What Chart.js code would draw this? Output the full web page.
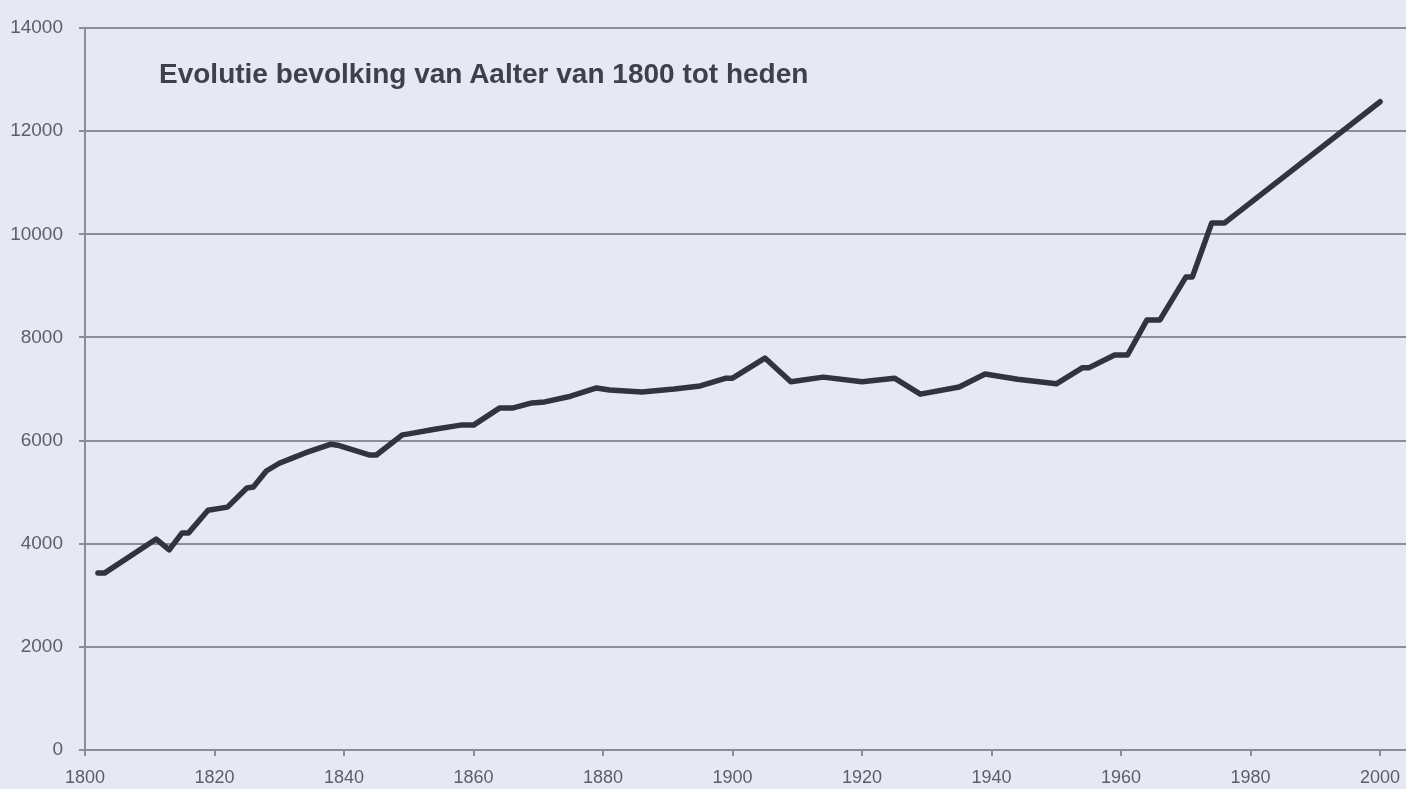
<!DOCTYPE html>
<html>
<head>
<meta charset="utf-8">
<title>Evolutie bevolking van Aalter</title>
<script src="https://cdn.jsdelivr.net/npm/chart.js@4.4.1/dist/chart.umd.min.js"></script>
<style>
  html, body { margin: 0; padding: 0; background: #e6e9f3; }
  #wrap { position: relative; width: 1406px; height: 789px; }
  #titel {
    position: absolute; left: 159px; top: 60px;
    font-family: "Liberation Sans", Arial, sans-serif;
    font-weight: bold; font-size: 28px; line-height: 28px;
    color: #3e404e; white-space: nowrap;
  }
</style>
</head>
<body>
<div id="wrap">
  <canvas id="mycanvas" width="1406" height="789"></canvas>
  <div id="titel">Evolutie bevolking van Aalter van 1800 tot heden</div>
</div>
<script>
// jaartallen en inwoners
var jaren = [1802, 1803, 1811, 1813, 1815, 1816, 1819, 1822, 1825, 1826,
  1828, 1830, 1832, 1834, 1838, 1839, 1844, 1845, 1849, 1850,
  1854, 1858, 1860, 1864, 1866, 1869, 1871, 1875, 1879, 1881,
  1886, 1891, 1895, 1899, 1900, 1905, 1909, 1914, 1920, 1925,
  1929, 1935, 1939, 1944, 1950, 1954, 1955, 1959, 1961, 1964,
  1966, 1970, 1971, 1974, 1976, 2000];
var inwoners = [3430, 3430, 4090, 3880, 4210, 4210, 4650, 4710, 5080, 5100,
  5410, 5560, 5660, 5760, 5930, 5910, 5720, 5720, 6110, 6130,
  6220, 6300, 6300, 6630, 6630, 6730, 6750, 6860, 7020, 6980,
  6940, 7000, 7060, 7210, 7210, 7600, 7140, 7230, 7140, 7210,
  6900, 7040, 7290, 7190, 7100, 7410, 7410, 7660, 7660, 8340,
  8340, 9170, 9170, 10220, 10220, 12570];

var xTicks = [1800, 1820, 1840, 1860, 1880, 1900, 1920, 1940, 1960, 1980, 2000];
var yTicks = [0, 2000, 4000, 6000, 8000, 10000, 12000, 14000];

var punten = [];
for (var i in jaren) {
  punten.push({ x: jaren[i], y: inwoners[i] });
}

var grijs = "#8b8e97";
var tekst = "#5c5e68";

var ctx = document.getElementById("mycanvas");
var grafiek = new Chart(ctx, {
  type: "line",
  data: {
    datasets: [{
      label: "Inwoners",
      data: punten,
      borderColor: "#32343d",
      borderWidth: 5.5,
      tension: 0,
      fill: false,
      pointRadius: 0,
      borderJoinStyle: "round",
      borderCapStyle: "round"
    }]
  },
  options: {
    responsive: false,
    animation: false,
    layout: { padding: { top: 28, left: 0, right: 0, bottom: 0 } },
    plugins: { legend: { display: false }, tooltip: { enabled: false } },
    scales: {
      x: {
        type: "linear",
        min: 1800,
        max: 2004,
        afterFit: function (scale) {
          scale.height = 39;
          // de as loopt door tot aan de rechterrand
          scale.paddingLeft = 0;
          scale.paddingRight = 0;
        },
        afterBuildTicks: function (scale) {
          scale.ticks = xTicks.map(function (v) { return { value: v }; });
        },
        ticks: {
          color: tekst,
          padding: 11,
          maxRotation: 0,
          font: { family: "Liberation Sans", size: 18 },
          callback: function (v) { return String(v); }
        },
        grid: { drawOnChartArea: false, color: grijs, tickLength: 6, lineWidth: 2 },
        border: { color: grijs, width: 2 }
      },
      y: {
        min: 0,
        max: 14000,
        afterFit: function (scale) { scale.width = 85; },
        afterBuildTicks: function (scale) {
          scale.ticks = yTicks.map(function (v) { return { value: v }; });
        },
        ticks: {
          color: tekst,
          padding: 16,
          font: { family: "Liberation Sans", size: 19 },
          callback: function (v) { return String(v); }
        },
        grid: { color: grijs, tickLength: 6, lineWidth: 2 },
        border: { color: grijs, width: 2 }
      }
    }
  }
});
</script>
</body>
</html>
